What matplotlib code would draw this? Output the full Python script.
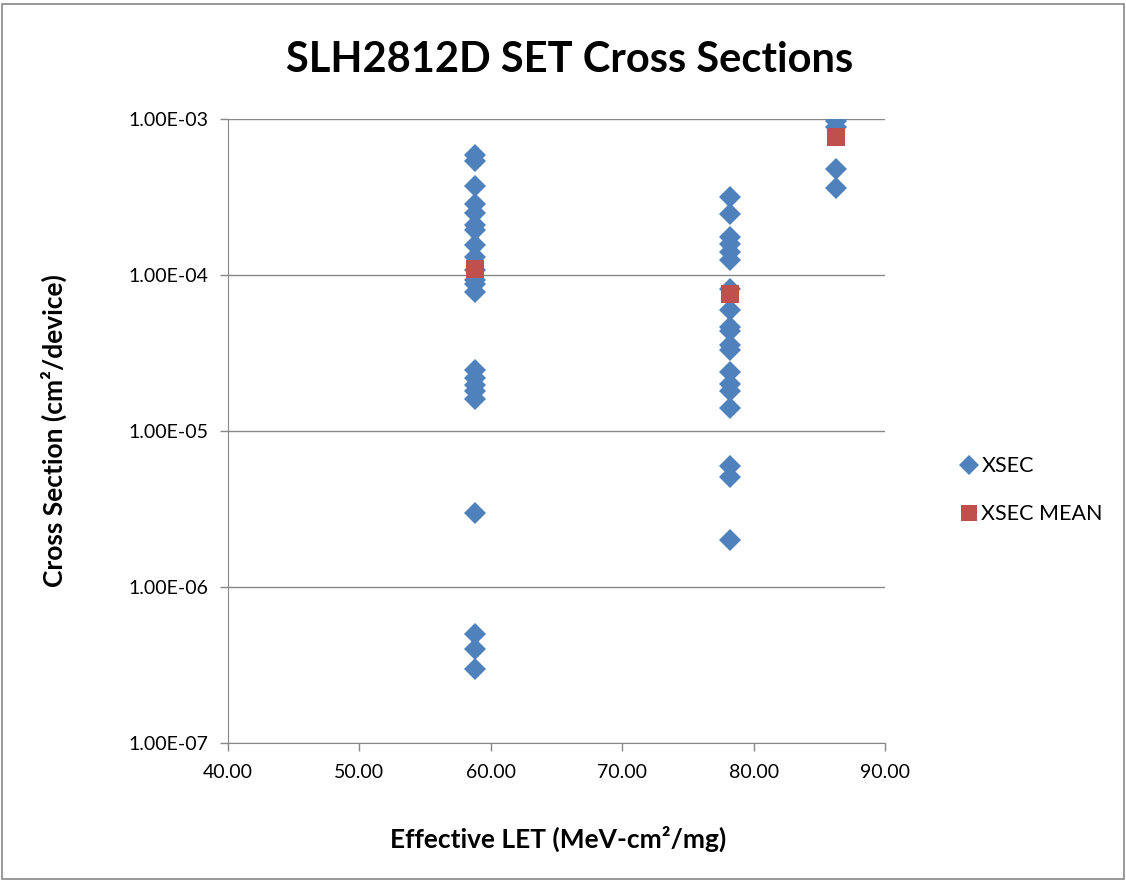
import numpy as np
import matplotlib.pyplot as plt
from matplotlib.patches import Rectangle

# data
let_1 = 58.8
xsec_1 = [5.9e-4, 5.4e-4, 3.7e-4, 2.85e-4, 2.5e-4, 2.1e-4, 1.95e-4, 1.55e-4, 1.3e-4,
          1.07e-4, 9.3e-5, 8.7e-5, 7.8e-5, 2.45e-5, 2.2e-5, 1.97e-5, 1.8e-5, 1.6e-5,
          3.0e-6, 5.0e-7, 4.0e-7, 3.0e-7]
let_2 = 78.2
xsec_2 = [3.16e-4, 2.45e-4, 1.75e-4, 1.58e-4, 1.4e-4, 1.25e-4, 8.1e-5, 6.0e-5,
          4.65e-5, 4.4e-5, 3.55e-5, 3.3e-5, 2.4e-5, 2.0e-5, 1.8e-5, 1.4e-5,
          6.0e-6, 5.1e-6, 2.0e-6]
let_3 = 86.3
xsec_3 = [9.7e-4, 8.9e-4, 4.8e-4, 3.6e-4]
let_mean = [58.8, 78.2, 86.3]
xsec_mean = [1.1e-4, 7.6e-5, 7.7e-4]

x_ticks = [40, 50, 60, 70, 80, 90]
y_ticks = [1e-7, 1e-6, 1e-5, 1e-4, 1e-3]

plt.rcParams['font.family'] = ['Lato', 'DejaVu Sans']
Blue = '#4F81BD'
Red = '#C0504D'
Gray = '#888888'

Fig = plt.figure(figsize=(11.26, 8.82), dpi=100)
Fig.patches.append(Rectangle((0.002, 0.003), 0.996, 0.992, transform=Fig.transFigure,
                             fill=False, edgecolor=Gray, linewidth=1.2))
Ax = Fig.add_axes([0.2025, 0.1576, 0.5835, 0.7074])

Xall = [let_1]*len(xsec_1) + [let_2]*len(xsec_2) + [let_3]*len(xsec_3)
Yall = xsec_1 + xsec_2 + xsec_3
Ax.plot(Xall, Yall, linestyle='none', marker='D', markersize=11, color=Blue,
        markeredgewidth=0, label='XSEC')
Ax.plot(let_mean, xsec_mean, linestyle='none', marker='s', markersize=13.5, color=Red,
        markeredgewidth=0, label='XSEC MEAN')

Ax.set_yscale('log')
Ax.set_xlim(40, 90)
Ax.set_ylim(1e-7, 1e-3)
Ax.set_xticks(x_ticks)
Ax.set_xticklabels(['%.2f' % v for v in x_ticks])
Ax.set_yticks(y_ticks)
Ax.set_yticklabels(['%.2E' % v for v in y_ticks])
Ax.yaxis.set_minor_locator(plt.NullLocator())
Ax.tick_params(axis='both', labelsize=14, direction='out', length=6, color=Gray, width=1)
Ax.tick_params(axis='x', pad=9)
Ax.tick_params(axis='y', pad=8)
Ax.grid(True, axis='y', color=Gray, linewidth=1)
Ax.set_axisbelow(True)
Ax.spines['right'].set_color('none')
Ax.spines['top'].set_color('none')
Ax.spines['left'].set_color(Gray)
Ax.spines['bottom'].set_color(Gray)

Fig.text(0.506, 0.932, 'SLH2812D SET Cross Sections', fontsize=30, fontweight='bold',
         ha='center', va='center')
Ax.set_xlabel('Effective LET (MeV-cm²/mg)', fontsize=19, fontweight='bold')
Ax.set_ylabel('Cross Section (cm²/device)', fontsize=19, fontweight='bold')
Ax.xaxis.set_label_coords(0.502, -0.133)
Ax.yaxis.set_label_coords(-0.245, 0.5)

Ax.legend(loc='center left', bbox_to_anchor=(1.078, 0.405), frameon=False, fontsize=15.5,
          handletextpad=0.0, labelspacing=1.3, handlelength=1.2, markerscale=0.9)

Fig.savefig('out.png', dpi=100)
